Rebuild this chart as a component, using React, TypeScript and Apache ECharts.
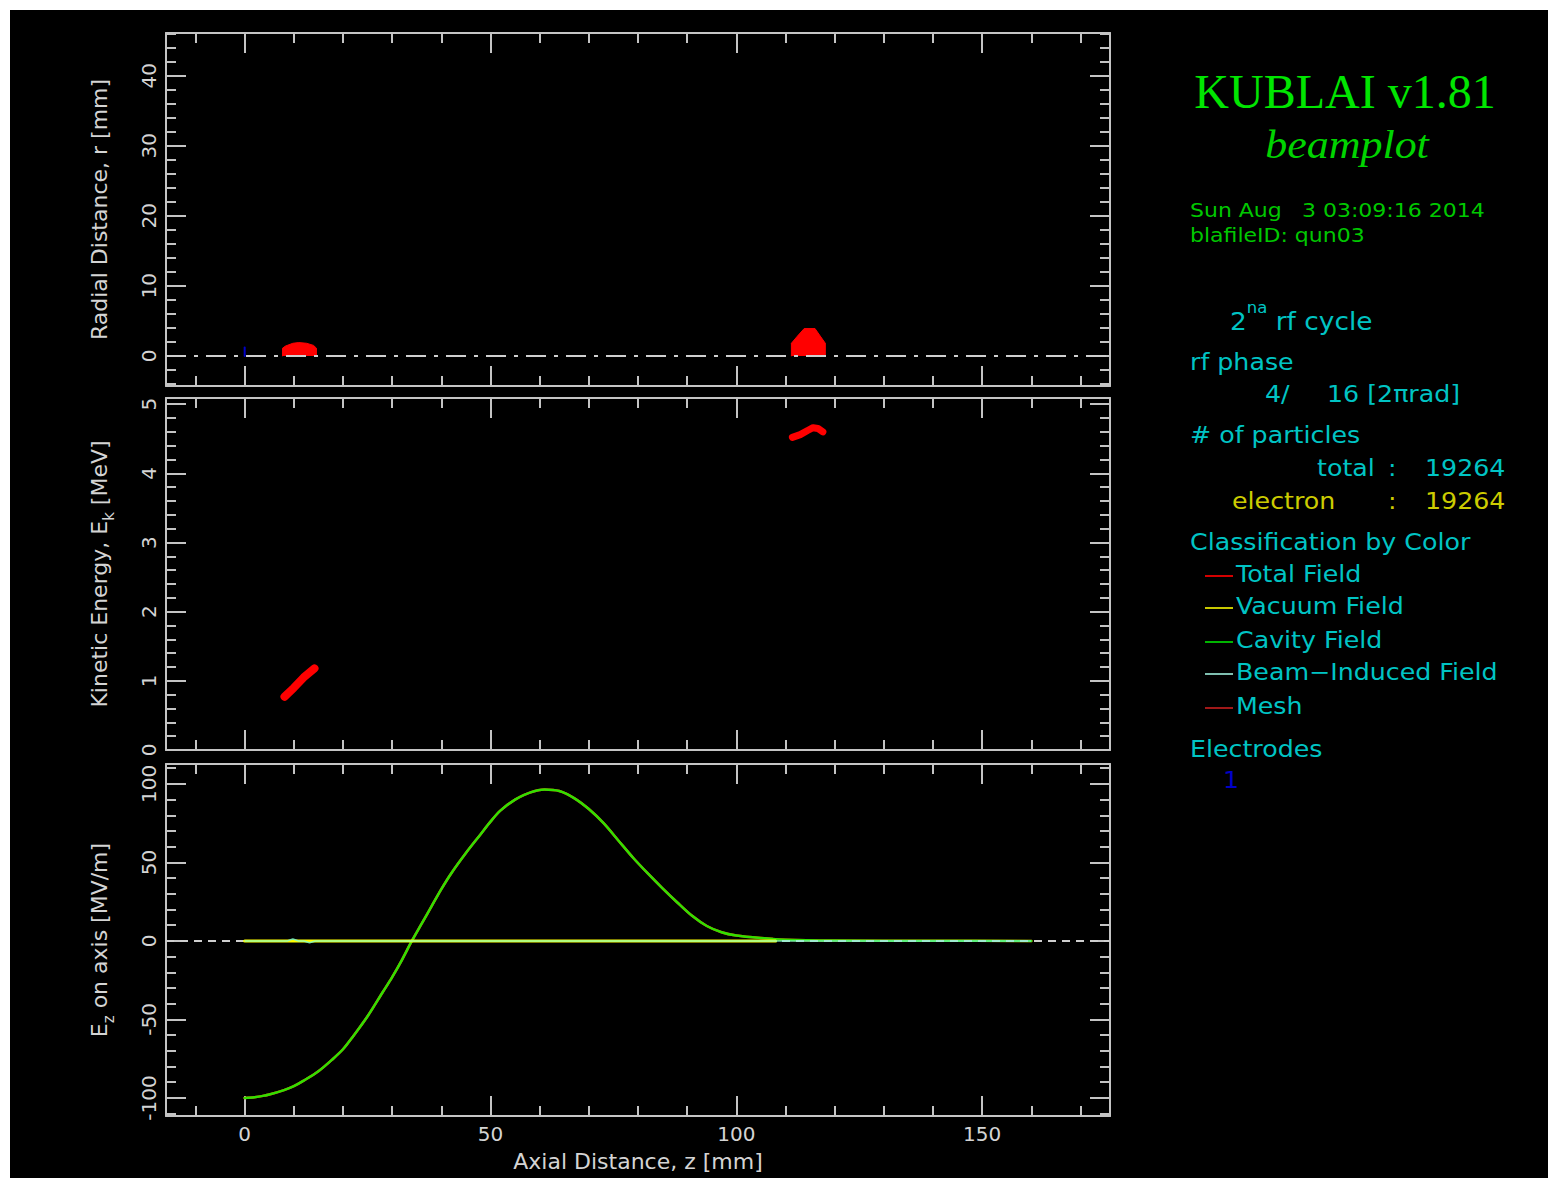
import React, { useEffect, useRef } from 'react';
import * as echarts from 'echarts';

// Shared axial range (mm) for the three stacked panels
const zRange: [number, number] = [-16, 176];
const rRange: [number, number] = [-4.3, 46.1];
const ekRange: [number, number] = [0, 5.09];
const ezRange: [number, number] = [-111.5, 112.7];

// Bunch outlines in the r-z plane (z mm, r mm)
const bunchA_rz: [number, number][] = [
  [7.7, 0], [7.7, 1.1], [8.3, 1.4], [9.8, 1.8], [11.0, 1.9], [12.6, 1.8], [14.0, 1.5], [14.6, 1.1], [14.6, 0],
];
const bunchB_rz: [number, number][] = [
  [111.2, 0], [111.2, 1.8], [112.4, 2.8], [113.8, 3.9], [116.0, 3.9], [117.2, 2.7], [118.1, 1.8], [118.1, 0],
];
// Electrode position marker on the axis
const electrodeMark: [number, number][] = [[0, 0], [0, 1.2]];

// Kinetic energy of the bunches (z mm, Ek MeV)
const bunchA_ek: [number, number][] = [[8.1, 0.77], [10.0, 0.9], [12.0, 1.05], [14.2, 1.18]];
const bunchB_ek: [number, number][] = [[111.4, 4.52], [113.0, 4.56], [114.5, 4.62], [115.6, 4.66], [116.6, 4.65], [117.6, 4.6]];

// On-axis Ez (MV/m) sampled along z (mm)
const ezZ = [0, 2, 5, 8, 10, 12, 15, 18, 20, 22, 25, 28, 30, 32, 34, 36, 38, 40, 42, 45, 48, 50, 52, 55, 58, 61, 64, 67, 70, 73, 76, 79, 82, 85, 88, 91, 94, 97, 100, 105, 110, 120, 140, 160];
const ezCavity = [-100, -99.6, -97.8, -95, -92.5, -89, -83, -75, -69, -61, -48, -33, -23, -12, 0, 11, 22, 33, 43, 56, 68, 76, 83, 90, 94.5, 96.5, 95.5, 91, 84, 75, 64, 53, 43, 33.5, 24.5, 16, 9.5, 5.5, 3.4, 1.8, 0.8, 0.3, 0.1, 0];
const ezTotal = ezCavity;
const vacuumField: [number, number][] = [[0, 0], [108, 0]];
const beamInduced: [number, number][] = [[0, 0], [8.6, 0], [9.8, 1.2], [11.0, 0], [12.0, 0], [13.2, -1.2], [14.4, 0], [160, 0]];

// Legend entries of the info block
const legendNames = ['Total Field', 'Vacuum Field', 'Cavity Field', 'Beam\u2212Induced Field', 'Mesh'];
const legendColors = ['#d40000', '#c8c800', '#00b400', '#7fbfb0', '#a01818'];

const AXIS = '#c4c4c4';
const LABEL = '#d4d4d4';
const SANS = 'DejaVu Sans';
const CYAN = '#00c4c4';

const onMultiple = (step: number) => (v: number) =>
  Math.abs(v / step - Math.round(v / step)) < 1e-6 ? String(Math.round(v * 1000) / 1000) : '';

function zAxis(gridIndex: number, position: 'top' | 'bottom', labelled: boolean) {
  return {
    type: 'value', gridIndex, position, min: zRange[0], max: zRange[1],
    splitNumber: 4, minInterval: 50, maxInterval: 50,
    axisLine: { show: true, onZero: false, lineStyle: { color: AXIS, width: 2 } },
    axisTick: { show: true, inside: true, length: 20, lineStyle: { color: AXIS, width: 2 } },
    minorTick: { show: true, splitNumber: 5, length: 10, lineStyle: { color: AXIS, width: 2 } },
    splitLine: { show: false },
    minorSplitLine: { show: false },
    axisLabel: {
      show: labelled, color: LABEL, fontFamily: SANS, fontSize: 20, margin: 8,
      formatter: onMultiple(50), showMinLabel: false, showMaxLabel: false,
    },
    ...(labelled
      ? {
          name: 'Axial Distance, z [mm]', nameLocation: 'middle', nameGap: 34,
          nameTextStyle: { color: LABEL, fontFamily: SANS, fontSize: 22 },
        }
      : {}),
  };
}

const nameStyle = {
  color: LABEL, fontFamily: SANS, fontSize: 22, lineHeight: 34,
  rich: { sub: { color: LABEL, fontFamily: SANS, fontSize: 15, lineHeight: 15, verticalAlign: 'bottom' } },
};

function valAxis(gridIndex: number, position: 'left' | 'right', range: [number, number], step: number, split: number, name?: string) {
  const left = position === 'left';
  return {
    type: 'value', gridIndex, position, min: range[0], max: range[1],
    splitNumber: split, minInterval: step, maxInterval: step,
    axisLine: { show: true, onZero: false, lineStyle: { color: AXIS, width: 2 } },
    axisTick: { show: true, inside: true, length: 20, lineStyle: { color: AXIS, width: 2 } },
    minorTick: { show: true, splitNumber: 5, length: 10, lineStyle: { color: AXIS, width: 2 } },
    splitLine: { show: false },
    minorSplitLine: { show: false },
    axisLabel: {
      show: left, rotate: 90, color: LABEL, fontFamily: SANS, fontSize: 20, margin: 7,
      formatter: onMultiple(step),
    },
    ...(left && name
      ? { name, nameLocation: 'middle', nameRotate: 90, nameGap: 50, nameTextStyle: nameStyle }
      : {}),
  };
}

function text(x: number, y: number, str: string, fill: string, extra: Record<string, unknown> = {}, scaleX = 1.1) {
  return {
    type: 'text', x, y, scaleX, z: 10,
    style: {
      text: str, fill, fontFamily: SANS, fontSize: 23,
      align: 'left', verticalAlign: 'middle', textAlign: 'left', textVerticalAlign: 'middle',
      ...extra,
    },
  };
}

function lineSeries(name: string, grid: number, data: [number, number][], color: string, width: number, z: number, extra: Record<string, unknown> = {}) {
  return {
    name, type: 'line', xAxisIndex: grid * 2, yAxisIndex: grid * 2, data, z,
    symbol: 'none', silent: true,
    lineStyle: { color, width, cap: 'round', join: 'round' },
    ...extra,
  };
}

export default function App() {
  const ref = useRef<HTMLDivElement>(null);

  useEffect(() => {
    if (!ref.current) return;
    const chart = echarts.init(ref.current, undefined, { renderer: 'svg' });

    const ezCavityPts = ezZ.map((z, i) => [z, ezCavity[i]] as [number, number]);
    const ezTotalPts = ezZ.map((z, i) => [z, ezTotal[i]] as [number, number]);

    const info: any[] = [
      {
        type: 'text', x: 1335, y: 81, z: 10,
        style: {
          text: 'KUBLAI v1.81', fill: '#00e600', fontFamily: 'Liberation Serif', fontSize: 48,
          align: 'center', verticalAlign: 'middle', textAlign: 'center', textVerticalAlign: 'middle',
        },
      },
      {
        type: 'text', x: 1337, y: 135, z: 10, scaleX: 1.1, originX: 0,
        style: {
          text: 'beamplot', fill: '#00d400', fontFamily: 'Liberation Serif', fontStyle: 'italic', fontSize: 40,
          align: 'center', verticalAlign: 'middle', textAlign: 'center', textVerticalAlign: 'middle',
        },
      },
      text(1180, 200, 'Sun Aug', '#00c800', { fontSize: 20 }),
      text(1292, 200, '3 03:09:16 2014', '#00c800', { fontSize: 20 }),
      text(1180, 225, 'blafileID: qun03', '#00c800', { fontSize: 20 }),
      {
        type: 'text', x: 1220, y: 307, z: 10, scaleX: 1.1,
        style: {
          text: '{b|2}{s|na}{b| rf cycle}', fill: CYAN,
          align: 'left', verticalAlign: 'middle', textAlign: 'left', textVerticalAlign: 'middle',
          rich: {
            b: { fill: CYAN, color: CYAN, fontFamily: SANS, fontSize: 24, lineHeight: 34, verticalAlign: 'bottom' },
            s: { fill: CYAN, color: CYAN, fontFamily: SANS, fontSize: 15, lineHeight: 15, verticalAlign: 'top' },
          },
        },
      },
      text(1180, 352, 'rf phase', CYAN),
      text(1255, 384, '4/', CYAN),
      text(1317, 384, '16 [2\u03c0rad]', CYAN),
      text(1180, 425, '# of particles', CYAN),
      text(1307, 458, 'total', CYAN),
      text(1378, 458, ':', CYAN),
      text(1415, 458, '19264', CYAN),
      text(1222, 491, 'electron', '#cccc00'),
      text(1378, 491, ':', '#cccc00'),
      text(1415, 491, '19264', '#cccc00'),
      text(1180, 532, 'Classification by Color', CYAN),
      text(1180, 739, 'Electrodes', CYAN),
      text(1213, 770, '1', '#0000c8'),
    ];
    const legendY = [566, 598, 632, 664, 698];
    legendNames.forEach((n, i) => {
      info.push({
        type: 'line', z: 10,
        shape: { x1: 1195, y1: legendY[i], x2: 1223, y2: legendY[i] },
        style: { stroke: legendColors[i], lineWidth: 2 },
      });
      info.push(text(1226, legendY[i] - 2, n, CYAN));
    });

    chart.setOption({
      animation: false,
      backgroundColor: '#000',
      grid: [
        { left: 156, top: 23, width: 944, height: 353, containLabel: false, outerBoundsMode: 'none' },
        { left: 156, top: 388, width: 944, height: 352, containLabel: false, outerBoundsMode: 'none' },
        { left: 156, top: 754, width: 944, height: 352, containLabel: false, outerBoundsMode: 'none' },
      ],
      xAxis: [
        zAxis(0, 'bottom', false), zAxis(0, 'top', false),
        zAxis(1, 'bottom', false), zAxis(1, 'top', false),
        zAxis(2, 'bottom', true), zAxis(2, 'top', false),
      ],
      yAxis: [
        valAxis(0, 'left', rRange, 10, 5, 'Radial Distance, r [mm]'), valAxis(0, 'right', rRange, 10, 5),
        valAxis(1, 'left', ekRange, 1, 5, 'Kinetic Energy, E{sub|k} [MeV]'), valAxis(1, 'right', ekRange, 1, 5),
        valAxis(2, 'left', ezRange, 50, 5, 'E{sub|z} on axis [MV/m]'), valAxis(2, 'right', ezRange, 50, 5),
      ],
      series: [
        // r-z panel
        lineSeries('bunch A', 0, bunchA_rz, '#ff0000', 1, 3, { areaStyle: { color: '#ff0000', opacity: 1 } }),
        lineSeries('bunch B', 0, bunchB_rz, '#ff0000', 1, 3, { areaStyle: { color: '#ff0000', opacity: 1 } }),
        lineSeries('axis r=0', 0, [[zRange[0], 0], [zRange[1], 0]], '#cfcfcf', 2, 5, {
          lineStyle: { color: '#cfcfcf', width: 2, type: [20, 8, 4, 8], cap: 'butt' },
        }),
        lineSeries('electrode 1', 0, electrodeMark, '#0000c8', 2, 6),
        // Ek-z panel
        lineSeries('Ek A', 1, bunchA_ek, '#ff0000', 8, 3),
        lineSeries('Ek B', 1, bunchB_ek, '#ff0000', 7, 3),
        // Ez-z panel
        lineSeries('Total Field', 2, ezTotalPts, '#ff3000', 2.5, 2, { smooth: 0.3 }),
        lineSeries('Cavity Field', 2, ezCavityPts, '#30e000', 2.5, 3, { smooth: 0.3 }),
        lineSeries('axis Ez=0', 2, [[zRange[0], 0], [zRange[1], 0]], '#cfcfcf', 2, 4, {
          lineStyle: { color: '#cfcfcf', width: 2, type: [8, 6], cap: 'butt' },
        }),
        lineSeries('Vacuum Field', 2, vacuumField, '#ffff00', 3, 5),
        lineSeries('Beam-Induced Field', 2, beamInduced, '#7fffd0', 1.5, 6, {
          lineStyle: { color: '#7fffd0', width: 1.5, opacity: 0.8 },
        }),
      ],
      graphic: { elements: info },
    });

    return () => chart.dispose();
  }, []);

  return (
    <div style={{ position: 'fixed', left: 10, top: 10, width: 1538, height: 1168, background: '#000' }}>
      <div ref={ref} style={{ width: 1538, height: 1168 }} />
    </div>
  );
}
